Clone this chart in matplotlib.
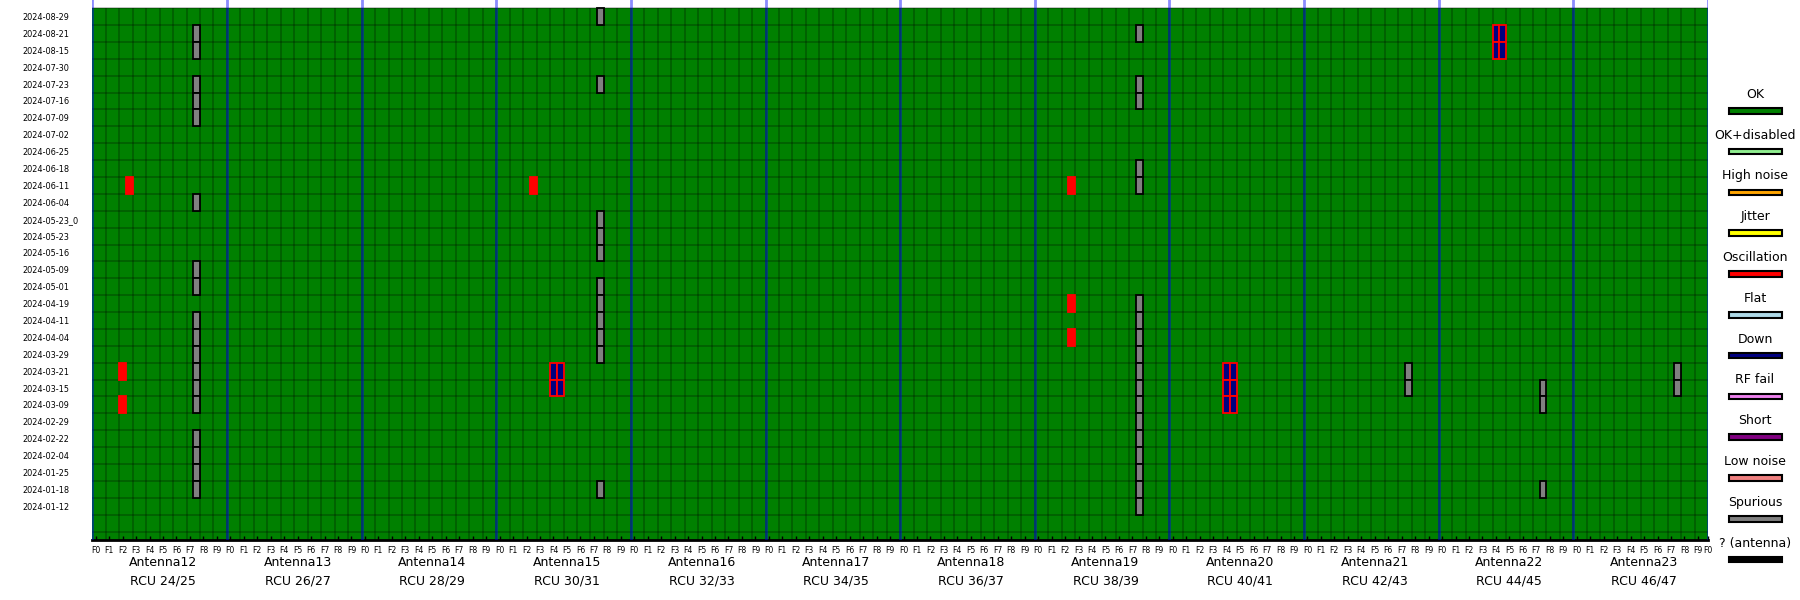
import matplotlib
matplotlib.use('Agg')
import matplotlib.pyplot as plt
import matplotlib.transforms as mtransforms
from matplotlib.colors import ListedColormap
import numpy as np

dates = ['2024-08-29', '2024-08-21', '2024-08-15', '2024-07-30', '2024-07-23', '2024-07-16',
         '2024-07-09', '2024-07-02', '2024-06-25', '2024-06-18', '2024-06-11', '2024-06-04',
         '2024-05-23_0', '2024-05-23', '2024-05-16', '2024-05-09', '2024-05-01', '2024-04-19',
         '2024-04-11', '2024-04-04', '2024-03-29', '2024-03-21', '2024-03-15', '2024-03-09',
         '2024-02-29', '2024-02-22', '2024-02-04', '2024-01-25', '2024-01-18', '2024-01-12']
antennas = [12, 13, 14, 15, 16, 17, 18, 19, 20, 21, 22, 23]
rcus = ['RCU 24/25', 'RCU 26/27', 'RCU 28/29', 'RCU 30/31', 'RCU 32/33', 'RCU 34/35',
        'RCU 36/37', 'RCU 38/39', 'RCU 40/41', 'RCU 42/43', 'RCU 44/45', 'RCU 46/47']
freqs = ['F0', 'F1', 'F2', 'F3', 'F4', 'F5', 'F6', 'F7', 'F8', 'F9']

statuses = ['OK', 'OK+disabled', 'High noise', 'Jitter', 'Oscillation', 'Flat', 'Down',
            'RF fail', 'Short', 'Low noise', 'Spurious', '? (antenna)']
status_colors = ['green', 'lightgreen', 'orange', 'yellow', 'red', 'lightblue', 'navy',
                 'violet', 'purple', 'lightcoral', 'gray', 'black']

# (antenna, frequency, polarisation 0/1, dates)
spurious_cells = [
    (12, 'F7', 1, ['2024-08-21', '2024-08-15', '2024-07-23', '2024-07-16', '2024-07-09',
                   '2024-06-04', '2024-05-09', '2024-05-01', '2024-04-11', '2024-04-04',
                   '2024-03-29', '2024-03-21', '2024-03-15', '2024-03-09', '2024-02-22',
                   '2024-02-04', '2024-01-25', '2024-01-18']),
    (15, 'F7', 1, ['2024-08-29', '2024-07-23', '2024-05-23_0', '2024-05-23', '2024-05-16',
                   '2024-05-01', '2024-04-19', '2024-04-11', '2024-04-04', '2024-03-29',
                   '2024-01-18']),
    (19, 'F7', 1, ['2024-08-21', '2024-07-23', '2024-07-16', '2024-06-18', '2024-06-11',
                   '2024-04-19', '2024-04-11', '2024-04-04', '2024-03-29', '2024-03-21',
                   '2024-03-15', '2024-03-09', '2024-02-29', '2024-02-22', '2024-02-04',
                   '2024-01-25', '2024-01-18', '2024-01-12']),
    (21, 'F7', 1, ['2024-03-21', '2024-03-15']),
    (22, 'F7', 1, ['2024-03-15', '2024-03-09', '2024-01-18']),
    (23, 'F7', 1, ['2024-03-21', '2024-03-15']),
]
oscillation_cells = [
    (12, 'F2', 1, ['2024-06-11']),
    (12, 'F2', 0, ['2024-03-21', '2024-03-09']),
    (15, 'F2', 1, ['2024-06-11']),
    (19, 'F2', 1, ['2024-06-11', '2024-04-19', '2024-04-04']),
]
down_cells = [
    (15, 'F4', 0, ['2024-03-21', '2024-03-15']),
    (15, 'F4', 1, ['2024-03-21', '2024-03-15']),
    (20, 'F4', 0, ['2024-03-21', '2024-03-15', '2024-03-09']),
    (20, 'F4', 1, ['2024-03-21', '2024-03-15', '2024-03-09']),
    (22, 'F4', 0, ['2024-08-21', '2024-08-15']),
    (22, 'F4', 1, ['2024-08-21', '2024-08-15']),
]
groups = [(spurious_cells, 'Spurious', 'black'),
          (oscillation_cells, 'Oscillation', 'red'),
          (down_cells, 'Down', 'red')]

nf = len(freqs)
ncol = len(antennas) * nf

fig = plt.figure(figsize=(18, 6), dpi=100)
ax = fig.add_axes([92.3 / 1800, 60 / 600, (1708 - 92.3) / 1800, 540 / 600])

# status matrix: rows = dates (+ empty rows at bottom), columns = half-frequency (two RCUs)
status = np.zeros((len(dates) + 2, ncol * 2), dtype=int)
for cells, name, edge in groups:
    for ant, f, pol, ds in cells:
        col = (antennas.index(ant) * nf + freqs.index(f)) * 2 + pol
        for d in ds:
            status[dates.index(d), col] = statuses.index(name)

xedges = np.arange(ncol * 2 + 1) * 0.5
yedges = np.append(np.arange(len(dates) + 2), len(dates) + 1.5)
cmap = ListedColormap(status_colors)
ax.pcolormesh(xedges, yedges, status, cmap=cmap, vmin=-0.5, vmax=len(statuses) - 0.5, zorder=1)

ax.hlines(np.arange(0, len(dates) + 2), 0, ncol, color='black', alpha=0.3, lw=1.1, zorder=2)
ax.vlines(np.arange(1, ncol), 0, len(dates) + 1.5, color='black', alpha=0.3, lw=1.1, zorder=2)

for cells, name, edge in groups:
    for ant, f, pol, ds in cells:
        x = antennas.index(ant) * nf + freqs.index(f) + 0.5 * pol
        rows = [dates.index(d) for d in ds]
        ax.bar([x] * len(rows), 1, width=0.5, bottom=rows, align='edge',
               facecolor=status_colors[statuses.index(name)], edgecolor=edge, lw=1.3, zorder=3)

for a in range(len(antennas) + 1):
    ax.axvline(a * nf, color='blue', alpha=0.45, lw=2.0, zorder=4)

ax.set_xlim(0, ncol)
ax.set_ylim(len(dates) + 1.5, -0.48)

ax.set_xticks(list(np.arange(ncol) + 0.25) + [ncol])
ax.set_xticklabels(freqs * len(antennas) + ['F0'], fontsize=5.6)
ax.tick_params(axis='x', direction='in', length=3, width=1, pad=4)

ax.set_yticks(np.arange(len(dates)) + 0.5)
ax.set_yticklabels(dates, fontsize=5.9)
ax.tick_params(axis='y', length=0, pad=50)
for lab in ax.get_yticklabels():
    lab.set_horizontalalignment('left')

for s in ['top', 'left', 'right']:
    ax.spines[s].set_visible(False)
ax.spines['bottom'].set_linewidth(2)

trans = mtransforms.blended_transform_factory(ax.transData, fig.transFigure)
for a, ant in enumerate(antennas):
    ax.text(a * nf + 5.25, 1 - 562.7 / 600, 'Antenna%d' % ant, transform=trans,
            ha='center', va='center', fontsize=9)
    ax.text(a * nf + 5.25, 1 - 580.7 / 600, rcus[a], transform=trans,
            ha='center', va='center', fontsize=9)

# legend drawn in figure pixel coordinates
lax = fig.add_axes([0, 0, 1, 1], zorder=-1)
lax.set_xlim(0, 1800)
lax.set_ylim(600, 0)
lax.axis('off')
label_y = 94.3 + 40.8 * np.arange(len(statuses))
lax.barh(label_y + 16.5, 53, height=5.5, left=1728.5, color=status_colors,
         edgecolor='black', lw=1.5)
for y, name in zip(label_y, statuses):
    lax.text(1755, y, name, ha='center', va='center', fontsize=9)

fig.savefig('out.png', dpi=100)
